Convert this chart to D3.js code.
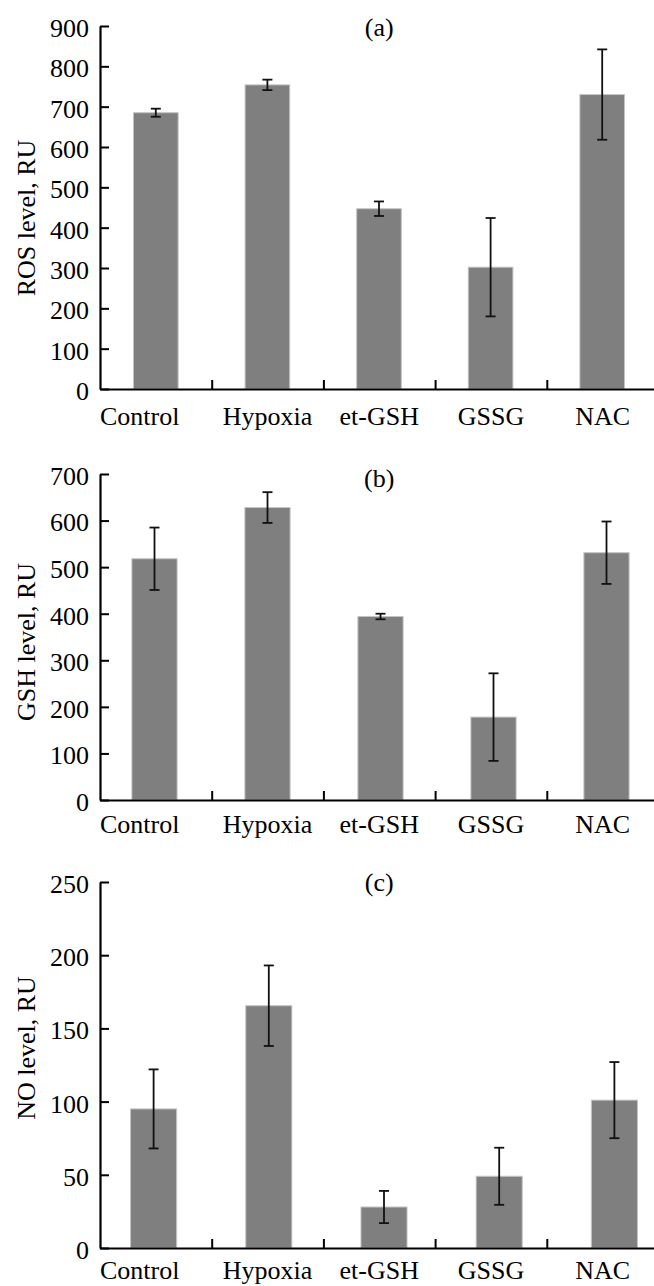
<!DOCTYPE html>
<html>
<head>
<meta charset="utf-8">
<script src="https://cdn.jsdelivr.net/npm/d3@7/dist/d3.min.js"></script>
<style>
  body { margin: 0; background: #fff; }
  svg { display: block; font-family: "Liberation Serif", "Times New Roman", serif; }
</style>
</head>
<body>
<svg id="chart" width="654" height="1286"></svg>
<script>
// data
const categories = ["Control", "Hypoxia", "et-GSH", "GSSG", "NAC"]

const rosValues = [685, 754, 447, 302, 730]
const rosErrors = [10, 13, 18, 122, 112]
const rosTicks = [0, 100, 200, 300, 400, 500, 600, 700, 800, 900]

const gshValues = [518, 628, 394, 178, 531]
const gshErrors = [67, 33, 6, 94, 67]
const gshTicks = [0, 100, 200, 300, 400, 500, 600, 700]

const noValues = [95, 165.5, 28, 49, 101]
const noErrors = [27, 27.5, 11, 19.5, 26]
const noTicks = [0, 50, 100, 150, 200, 250]

const panels = [
    { title: "(a)", ylabel: "ROS level, RU", values: rosValues, errors: rosErrors, ticks: rosTicks,
      top: 26, bottom: 389, barRange: [100, 658], labelY: 218, titleDy: 10, labPad: 18 },
    { title: "(b)", ylabel: "GSH level, RU", values: gshValues, errors: gshErrors, ticks: gshTicks,
      top: 474, bottom: 800, barRange: [98, 663], labelY: 642, titleDy: 13, labPad: 15 },
    { title: "(c)", ylabel: "NO level, RU", values: noValues, errors: noErrors, ticks: noTicks,
      top: 882, bottom: 1248, barRange: [96, 672], labelY: 1048, titleDy: 9, labPad: 13 }
]

const axisLeft = 100
const axisRight = 658.5
const fontSize = "26px"

const svg = d3.select("#chart")

panels.forEach(p => {
    const g = svg.append("g")

    const y = d3.scaleLinear()
        .domain([0, d3.max(p.ticks)])
        .range([p.bottom, p.top])

    // bars use a slightly different spread than the category ticks
    const xBar = d3.scaleBand()
        .domain(categories)
        .range(p.barRange)
        .paddingInner(0.6)
        .paddingOuter(0.3)

    const xLab = d3.scaleBand()
        .domain(categories)
        .range([axisLeft, axisRight])

    const xDiv = d3.scaleLinear()
        .domain([0, categories.length])
        .range([axisLeft, axisRight])

    const rows = categories.map((c, i) => ({ name: c, v: p.values[i], e: p.errors[i] }))

    g.append("g")
        .selectAll("rect")
        .data(rows)
        .join("rect")
        .attr("x", d => xBar(d.name))
        .attr("width", xBar.bandwidth())
        .attr("y", d => y(d.v))
        .attr("height", d => y(0) - y(d.v))
        .attr("fill", "#7f7f7f")
        .attr("stroke", "#c4c4c4")
        .attr("stroke-width", 1)

    // error bars
    const err = g.append("g")
        .attr("stroke", "#111")
        .attr("stroke-width", 1.8)
        .selectAll("g")
        .data(rows)
        .join("g")
        .attr("transform", d => `translate(${xBar(d.name) + xBar.bandwidth() / 2},0)`)
    err.append("line")
        .attr("y1", d => y(d.v + d.e))
        .attr("y2", d => y(d.v - d.e))
    err.append("line")
        .attr("x1", -5).attr("x2", 5)
        .attr("y1", d => y(d.v + d.e)).attr("y2", d => y(d.v + d.e))
    err.append("line")
        .attr("x1", -5).attr("x2", 5)
        .attr("y1", d => y(d.v - d.e)).attr("y2", d => y(d.v - d.e))

    // y axis, ticks pointing inward
    const axisY = g.append("g")
        .attr("transform", `translate(${axisLeft},0)`)
        .call(d3.axisLeft(y).tickValues(p.ticks).tickSizeInner(-9).tickSizeOuter(0).tickPadding(11))
    axisY.select(".domain").attr("stroke-width", 2.2)
    axisY.selectAll(".tick line").attr("stroke-width", 2)
    axisY.selectAll("text")
        .attr("dy", "0.4em")
        .style("font-size", fontSize)
        .style("font-family", "'Liberation Serif', 'Times New Roman', serif")
        .attr("fill", "#000")

    // x axis: dividers between categories
    const axisX = g.append("g")
        .attr("transform", `translate(0,${y(0)})`)
        .call(d3.axisBottom(xDiv).tickValues([1, 2, 3, 4]).tickSizeInner(-9).tickSizeOuter(0).tickFormat(""))
    axisX.select(".domain").attr("stroke-width", 2.2)
    axisX.selectAll(".tick line").attr("stroke-width", 2)

    // category labels
    const labs = g.append("g")
        .attr("transform", `translate(0,${y(0)})`)
        .call(d3.axisBottom(xLab).tickSize(0).tickPadding(p.labPad))
    labs.select(".domain").remove()
    labs.selectAll("text")
        .style("font-size", fontSize)
        .style("font-family", "'Liberation Serif', 'Times New Roman', serif")
        .attr("fill", "#000")
    labs.selectAll(".tick").filter((d, i) => i === 0).select("text")
        .attr("text-anchor", "start")
        .attr("x", axisLeft - xLab(categories[0]) - xLab.bandwidth() / 2)

    // panel tag
    g.append("text")
        .attr("x", (axisLeft + axisRight) / 2)
        .attr("y", p.top + p.titleDy)
        .attr("text-anchor", "middle")
        .style("font-size", fontSize)
        .text(p.title)

    // y label
    g.append("text")
        .attr("transform", `translate(35,${p.labelY}) rotate(-90)`)
        .attr("text-anchor", "middle")
        .style("font-size", fontSize)
        .text(p.ylabel)
})
</script>
</body>
</html>
